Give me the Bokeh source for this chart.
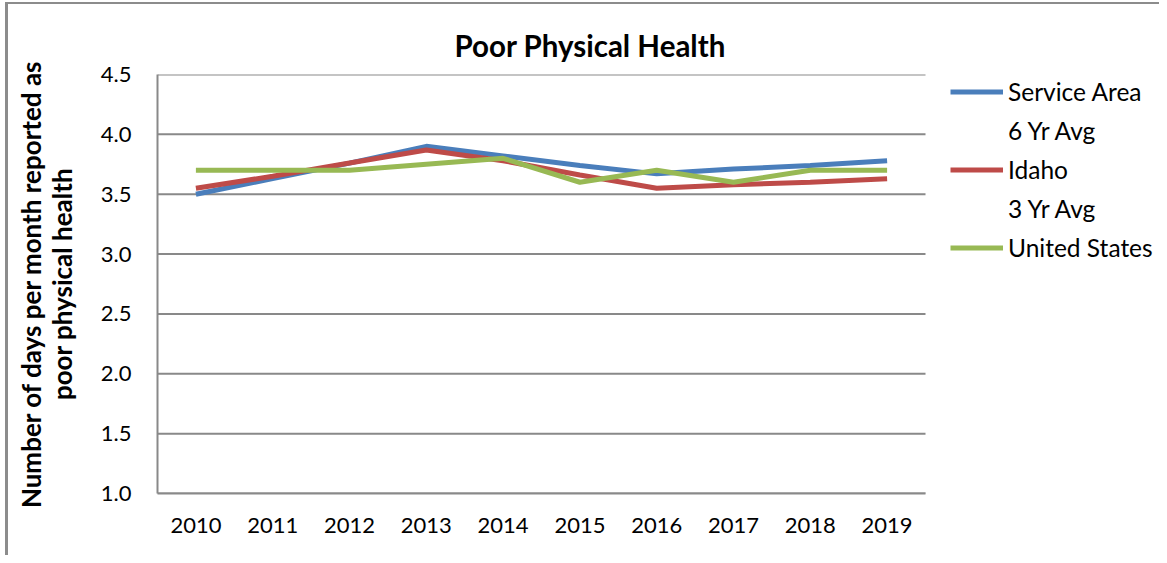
from bokeh.plotting import figure
from bokeh.models import (FixedTicker, PrintfTickFormatter, Legend, LegendItem, Range1d,
                          LinearAxis)
from bokeh.embed import file_html
from bokeh.resources import INLINE

years = [2010, 2011, 2012, 2013, 2014, 2015, 2016, 2017, 2018, 2019]
year_labels = ["2010", "2011", "2012", "2013", "2014", "2015", "2016", "2017", "2018", "2019"]
service_area = [3.50, 3.63, 3.76, 3.90, 3.82, 3.74, 3.67, 3.71, 3.74, 3.78]
idaho = [3.55, 3.65, 3.76, 3.87, 3.78, 3.66, 3.55, 3.58, 3.60, 3.63]
united_states = [3.70, 3.70, 3.70, 3.75, 3.80, 3.60, 3.70, 3.60, 3.70, 3.70]
y_ticks = [1.0, 1.5, 2.0, 2.5, 3.0, 3.5, 4.0, 4.5]

FONT = "Lato"
GRAY = "#898989"

W, H = 1159, 555
LEFT, TOP, BOTTOM = 157, 74, 62

# plot area 768 px for the 10 categories; the frame continues to the right edge to hold the legend
x_start = years[0] - 0.5
x_end_axis = years[-1] + 0.5
px_per_year = 768 / 10
x_end = x_start + (W - LEFT) / px_per_year

p = figure(width=W, height=H, x_range=Range1d(x_start, x_end), y_range=Range1d(1.0, 4.5),
           output_backend="svg", toolbar_location=None,
           min_border_left=LEFT, min_border_right=0, min_border_top=TOP, min_border_bottom=BOTTOM)

# thin grey chart-area border at the left and top, as in the reference
p.border_fill_alpha = 0
p.styles = {
    "background": ("linear-gradient(#8c8c8c, #8c8c8c) 5px 2px / 3px 100% no-repeat, "
                   "linear-gradient(#8c8c8c, #8c8c8c) 5px 2px / 100% 2px no-repeat, "
                   "white"),
}

p.title.text = "Poor Physical Health"
p.title.text_font = FONT
p.title.text_font_size = "29.5px"
p.title.text_font_style = "bold"
p.title.text_color = "black"
p.title.align = "left"
p.title.offset = 297
p.title.standoff = 23

p.outline_line_color = None
p.xgrid.grid_line_color = None
p.ygrid.grid_line_color = None

# horizontal gridlines limited to the plot area
p.segment(x0=[x_start] * len(y_ticks), x1=[x_end_axis] * len(y_ticks), y0=y_ticks, y1=y_ticks,
          line_color=GRAY, line_width=2)

p.yaxis.ticker = FixedTicker(ticks=y_ticks)
p.yaxis.formatter = PrintfTickFormatter(format="%.1f")
p.xaxis.ticker = FixedTicker(ticks=years)
p.xaxis.major_label_overrides = {y: s for y, s in zip(years, year_labels)}
p.xaxis.bounds = (x_start, x_end_axis)

for ax in (p.xaxis[0], p.yaxis[0]):
    ax.axis_line_color = GRAY
    ax.axis_line_width = 2
    ax.major_tick_line_color = None
    ax.minor_tick_line_color = None
    ax.major_tick_out = 0
    ax.major_tick_in = 0
    ax.major_label_text_font = FONT
    ax.major_label_text_font_size = "22px"
    ax.major_label_text_color = "black"

p.yaxis.major_label_standoff = 26
p.xaxis.major_label_standoff = 24

p.yaxis.axis_label = "poor physical health"
p.yaxis.axis_label_text_font = FONT
p.yaxis.axis_label_text_font_size = "26px"
p.yaxis.axis_label_text_font_style = "bold"
p.yaxis.axis_label_text_color = "black"
p.yaxis.axis_label_standoff = 20

outer = LinearAxis(ticker=FixedTicker(ticks=[]), axis_line_color=None,
                   major_tick_line_color=None, minor_tick_line_color=None,
                   major_tick_out=0, major_tick_in=0,
                   axis_label="Number of days per month reported as",
                   axis_label_text_font=FONT, axis_label_text_font_size="26px",
                   axis_label_text_font_style="bold", axis_label_text_color="black",
                   axis_label_standoff=-4)
p.add_layout(outer, "left")

r1 = p.line(years, service_area, line_color="#4A7EBB", line_width=5)
r2 = p.line(years, idaho, line_color="#BE4B48", line_width=5)
r3 = p.line(years, united_states, line_color="#98B954", line_width=5)
blank1 = p.line([], [], line_alpha=0)
blank2 = p.line([], [], line_alpha=0)

legend = Legend(items=[
    LegendItem(label="Service Area", renderers=[r1]),
    LegendItem(label="6 Yr Avg", renderers=[blank1]),
    LegendItem(label="Idaho", renderers=[r2]),
    LegendItem(label="3 Yr Avg", renderers=[blank2]),
    LegendItem(label="United States", renderers=[r3]),
], location=(793, 228), orientation="vertical")
legend.label_text_font = FONT
legend.label_text_font_size = "24.5px"
legend.label_text_color = "black"
legend.glyph_width = 53
legend.glyph_height = 35
legend.label_height = 35
legend.spacing = 4
legend.label_standoff = 5
legend.padding = 0
legend.margin = 0
legend.border_line_color = None
legend.background_fill_alpha = 0
p.add_layout(legend)

open("out.html", "w").write(file_html(p, INLINE))
